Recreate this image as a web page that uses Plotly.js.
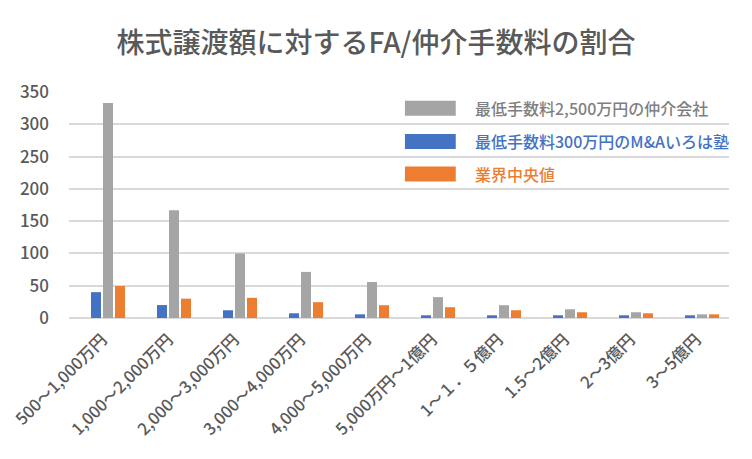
<!DOCTYPE html>
<html>
<head>
<meta charset="utf-8">
<script src="https://cdn.plot.ly/plotly-3.0.1.min.js"></script>
<style>
  html, body { margin: 0; padding: 0; background: #fff; }
  #chart { width: 752px; height: 459px; }
</style>
</head>
<body>
<div id="chart"></div>
<script>
/* ── data (読み取り値, %) ── */
const CATEGORIES = [
    '500～1,000万円', '1,000～2,000万円', '2,000～3,000万円', '3,000～4,000万円',
    '4,000～5,000万円', '5,000万円～1億円', '1～１．５億円', '1.5～2億円', '2～3億円', '3～5億円'
];
const IROHA_VALUES  = [40, 20, 12, 7.3, 5.7, 4.2, 4.2, 4.2, 4.2, 4.2];
const BROKER_VALUES = [333, 167, 100, 71.4, 55.7, 32.3, 19.8, 13.5, 8.9, 5.7];
const MEDIAN_VALUES = [49.5, 30, 31.3, 24.5, 19.8, 16.7, 12, 8.9, 7.3, 5.7];

const SERIES_NAMES = ['最低手数料2,500万円の仲介会社', '最低手数料300万円のM&Aいろは塾', '業界中央値'];

const COLORS = { broker: '#A5A5A5', iroha: '#4472C4', median: '#ED7D31' };
const TEXT_GRAY = '#595959';
const FONT = '"Noto Sans CJK JP", "Noto Sans", sans-serif';

/* Excel keeps an empty first slot in each cluster, so an all-null series holds it */
const EMPTY = CATEGORIES.map(() => null);

const traces = [
    { x: CATEGORIES, y: EMPTY,         type: 'bar', showlegend: false, hoverinfo: 'skip' },
    { x: CATEGORIES, y: IROHA_VALUES,  type: 'bar', name: SERIES_NAMES[1], marker: { color: COLORS.iroha } },
    { x: CATEGORIES, y: BROKER_VALUES, type: 'bar', name: SERIES_NAMES[0], marker: { color: COLORS.broker } },
    { x: CATEGORIES, y: MEDIAN_VALUES, type: 'bar', name: SERIES_NAMES[2], marker: { color: COLORS.median } }
];

/* ── legend drawn by hand: wide swatches, text in series colour ── */
const legendRows = [
    { name: SERIES_NAMES[0], color: COLORS.broker, text: '#7F7F7F', y: 0.928 },
    { name: SERIES_NAMES[1], color: COLORS.iroha,  text: COLORS.iroha,  y: 0.781 },
    { name: SERIES_NAMES[2], color: COLORS.median, text: COLORS.median, y: 0.637 }
];
const shapes = legendRows.map(r => ({
    type: 'rect', xref: 'paper', yref: 'paper',
    x0: 0.509, x1: 0.586, y0: r.y - 0.033, y1: r.y + 0.033,
    fillcolor: r.color, line: { width: 0 }
}));
const annotations = legendRows.map(r => ({
    text: r.name, xref: 'paper', yref: 'paper',
    x: 0.612, y: r.y, xanchor: 'left', yanchor: 'middle',
    showarrow: false, font: { family: FONT, size: 16, weight: 500, color: r.text }
}));

Plotly.newPlot('chart', traces, {
    width: 752, height: 459,
    paper_bgcolor: '#fff', plot_bgcolor: '#fff',
    font: { family: FONT, color: TEXT_GRAY },
    margin: { l: 69, r: 23, t: 92, b: 140.5 },
    title: {
        text: '株式譲渡額に対するFA/仲介手数料の割合',
        x: 0.5, xanchor: 'center', y: 0.905, yanchor: 'middle',
        font: { family: FONT, size: 28, weight: 500, color: TEXT_GRAY }
    },
    barmode: 'group',
    bargap: 0.2727,
    bargroupgap: 0.1667,
    showlegend: false,
    xaxis: {
        type: 'category',
        tickangle: -45,
        tickfont: { family: FONT, size: 16.5, weight: 500, color: TEXT_GRAY },
        showgrid: false, showline: false, zeroline: false,
        ticks: '', ticklabelstandoff: 8
    },
    yaxis: {
        range: [0, 350], dtick: 50,
        gridcolor: '#D9D9D9', gridwidth: 2,
        zeroline: true, zerolinecolor: '#D9D9D9', zerolinewidth: 2,
        showline: false, ticks: '',
        tickfont: { family: FONT, size: 17, weight: 500, color: TEXT_GRAY },
        ticklabelstandoff: 19
    },
    shapes: shapes,
    annotations: annotations
}, { displayModeBar: false, staticPlot: true });
</script>
</body>
</html>
